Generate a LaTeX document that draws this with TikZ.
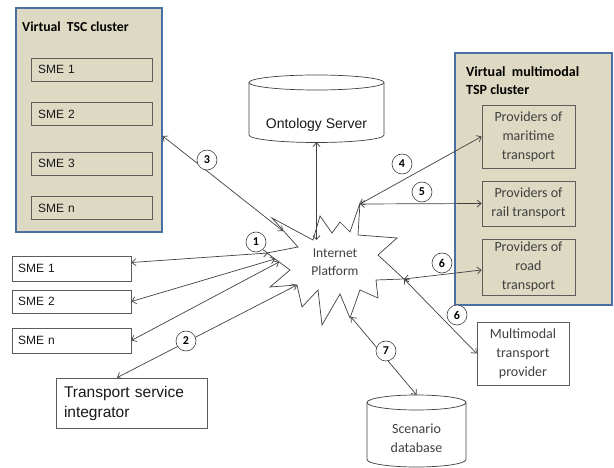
\documentclass[tikz,border=0pt]{standalone}
\usepackage{fontspec}
\setmainfont{Liberation Sans}
\newfontfamily\calfont{Carlito}
\usetikzlibrary{arrows.meta}
\definecolor{tanfill}{HTML}{DDD9C3}
\definecolor{bord}{HTML}{4A6FA5}
\definecolor{ln}{HTML}{404040}
\definecolor{txt}{HTML}{404040}
\begin{document}
\begin{tikzpicture}[x=1pt,y=-1pt,
  cluster/.style={draw=bord, fill=tanfill, line width=1.3pt, inner sep=0pt},
  inbox/.style={draw=ln!85, line width=0.7pt, inner sep=0pt},
  obox/.style={draw=ln!85, line width=0.7pt, fill=white, inner sep=0pt},
  smetext/.style={inner xsep=6pt, inner ysep=0pt, text width=107pt, align=left, font=\fontsize{12}{14}\selectfont, text=black!90},
  caltext/.style={font=\calfont\fontsize{14}{19}\selectfont, text=txt, align=center},
  conn/.style={draw=ln, line width=0.7pt, {Straight Barb[length=4pt,width=7pt]}-{Straight Barb[length=4pt,width=7pt]}},
  num/.style={circle, draw=ln, fill=white, line width=0.6pt, minimum size=20pt, inner sep=0pt, font=\calfont\bfseries\fontsize{12}{13}\selectfont},
  cyl/.style={draw=ln, line width=0.7pt, fill=white}
]
\useasboundingbox (0,0) rectangle (614,468);

% ---- Virtual TSC cluster
\node[cluster, minimum width=146pt, minimum height=224pt] (tsc) at (89,120) {};
\node[anchor=west, inner sep=0pt, font=\calfont\bfseries\fontsize{13.7}{15}\selectfont, text=black] (tsct) at (22,27) {Virtual\ \ TSC cluster};
\node[inbox, smetext, minimum width=121pt, minimum height=23pt] (c1) at (91.5,69.5) {SME 1};
\node[inbox, smetext, minimum width=121pt, minimum height=23pt] (c2) at (91.5,114) {SME 2};
\node[inbox, smetext, minimum width=121pt, minimum height=23pt] (c3) at (91.5,163.5) {SME 3};
\node[inbox, smetext, minimum width=121pt, minimum height=23pt] (cn) at (91.5,208) {SME n};

% ---- outside SMEs
\node[obox, smetext, minimum width=119pt, minimum height=25pt] (o1) at (71.5,268.5) {SME 1};
\node[obox, smetext, minimum width=119pt, minimum height=23pt] (o2) at (71.5,301.5) {SME 2};
\node[obox, smetext, minimum width=119pt, minimum height=25pt] (on) at (71.5,340.5) {SME n};

% ---- Transport service integrator
\node[obox, minimum width=151pt, minimum height=50pt, inner xsep=8pt, text width=135pt, align=left, font=\fontsize{15.5}{20}\selectfont, text=black!90] (tsi) at (131.5,403) {Transport service\\integrator};

% ---- Ontology server cylinder
\draw[cyl] (249,82.5) -- (249,135) arc[start angle=180, end angle=360, x radius=67.5pt, y radius=7.5pt] -- (384,82.5);
\draw[cyl] (316.5,82.5) ellipse[x radius=67.5pt, y radius=7.5pt];
\node[minimum width=135pt, minimum height=67pt, inner sep=0pt] (ont) at (316.5,108.5) {};
\node[font=\fontsize{14}{16}\selectfont, text=black!90, inner sep=0pt] (ontt) at (316.5,125) {Ontology Server};

% ---- Scenario database cylinder
\draw[cyl] (367,402.5) -- (367,459.5) arc[start angle=180, end angle=360, x radius=49.5pt, y radius=7.5pt] -- (466,402.5);
\draw[cyl] (416.5,402.5) ellipse[x radius=49.5pt, y radius=7.5pt];
\node[minimum width=99pt, minimum height=72pt, inner sep=0pt] (scen) at (416.5,431) {};
\node[caltext, font=\calfont\fontsize{14}{19}\selectfont, inner sep=0pt] (scent) at (416.5,438) {Scenario\\database};

% ---- Virtual multimodal TSP cluster
\node[cluster, minimum width=157pt, minimum height=252pt] (tsp) at (533.5,179) {};
\node[anchor=west, inner sep=0pt, align=left, font=\calfont\bfseries\fontsize{14}{18}\selectfont, text=black] (tspt) at (466,81) {Virtual\ \ multimodal\\TSP cluster};
\node[inbox, caltext, minimum width=93pt, minimum height=63pt] (mar) at (528.5,136.5) {Providers of\\maritime\\transport};
\node[inbox, caltext, minimum width=93pt, minimum height=45pt] (rail) at (528.5,203.5) {Providers of\\rail transport};
\node[inbox, caltext, minimum width=93pt, minimum height=56pt] (road) at (528.5,267) {Providers of\\road\\transport};

% ---- Multimodal transport provider
\node[obox, caltext, minimum width=92pt, minimum height=63pt] (mtp) at (523,353.5) {Multimodal\\transport\\provider};

% ---- Internet platform star
\draw[draw=ln, line width=0.7pt, fill=white]
  (272,218) -- (313,240) -- (320,216) -- (332,233) -- (340,222) -- (350,232)
  -- (360,203) -- (358,235) -- (397,238) -- (378,255) -- (404,279) -- (376,280)
  -- (378,298) -- (360,290) -- (350,318) -- (340,294) -- (322,325) -- (318,290)
  -- (302,307) -- (297,285) -- (270,287) -- (290,270) -- (267,253) -- (298,247) -- cycle;
\node[font=\calfont\fontsize{13.5}{18}\selectfont, text=txt, align=center, inner sep=0pt] (ip) at (335,262) {Internet\\Platform};

% star border points
\coordinate (s3) at (283,231);
\coordinate (s1) at (268,253);
\coordinate (s2) at (275,259);
\coordinate (sn) at (279,262);
\coordinate (st) at (297,285);
\coordinate (so) at (316.5,240);
\coordinate (s45) at (360,204);
\coordinate (s6) at (404,279);
\coordinate (s7) at (351,317);

% ---- connectors
\draw[conn] ([yshift=-16pt]tsc.east) -- (s3);
\draw[conn] ([yshift=6pt]o1.east) -- (s1);
\draw[conn] (o2.east) -- (s2);
\draw[conn] (on.east) -- (sn);
\draw[conn] ([xshift=-14.5pt]tsi.north) -- (st);
\draw[conn] (so) -- (ont.south);
\draw[conn] (s45) -- (mar.west);
\draw[conn] (s45) -- (rail.west);
\draw[conn] (s6) -- ([yshift=-3pt]road.west);
\draw[conn] (s6) -- (mtp.west);
\draw[conn] (s7) -- (scen.north);

% ---- number labels
\node[num] (l1) at (256,242) {1};
\node[num] (l2) at (186,341) {2};
\node[num] (l3) at (207,160) {3};
\node[num] (l4) at (402,164) {4};
\node[num] (l5) at (422,192) {5};
\node[num] (l6a) at (442,263) {6};
\node[num] (l6b) at (457,315) {6};
\node[num] (l7) at (386,351) {7};
\end{tikzpicture}
\end{document}
